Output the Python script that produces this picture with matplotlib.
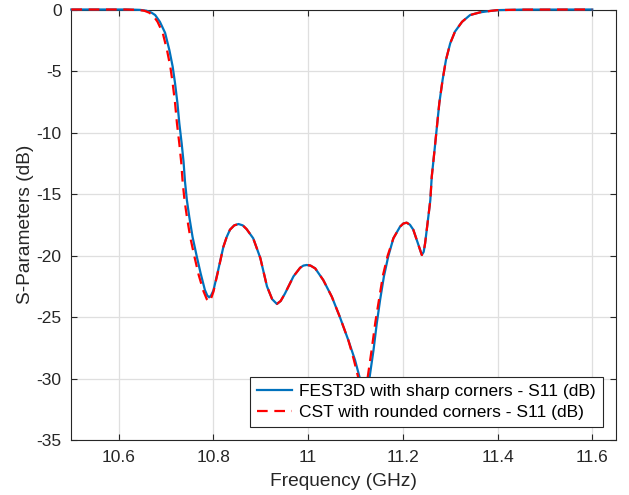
import matplotlib
matplotlib.use("Agg")
import matplotlib.pyplot as plt
from matplotlib.ticker import FixedLocator, FuncFormatter

plt.rcParams['font.family'] = ['Liberation Sans', 'DejaVu Sans']
plt.rcParams['axes.unicode_minus'] = False

# FEST3D, sharp corners
fest_f = [10.500, 10.620, 10.645, 10.659, 10.669, 10.677, 10.687, 10.698, 10.707, 10.714,
          10.719, 10.724, 10.728, 10.733, 10.737, 10.740, 10.744, 10.749, 10.756, 10.765,
          10.773, 10.782, 10.787, 10.791, 10.795, 10.800, 10.810, 10.821, 10.828, 10.835,
          10.844, 10.853, 10.862, 10.870, 10.884, 10.899, 10.913, 10.924, 10.934, 10.942,
          10.951, 10.969, 10.983, 10.990, 10.997, 11.005, 11.015, 11.032, 11.050, 11.067,
          11.085, 11.099, 11.110, 11.119, 11.129, 11.138, 11.145, 11.152, 11.160, 11.169,
          11.180, 11.194, 11.201, 11.208, 11.215, 11.222, 11.233, 11.240, 11.244, 11.247,
          11.253, 11.258, 11.261, 11.267, 11.272, 11.277, 11.284, 11.291, 11.300, 11.310,
          11.325, 11.342, 11.363, 11.384, 11.400, 11.450, 11.600]
fest_s11 = [0.00, 0.00, -0.03, -0.10, -0.25, -0.45, -1.00, -1.90, -3.30, -4.65,
            -6.00, -7.60, -9.25, -10.90, -12.40, -14.00, -15.50, -16.85, -18.50, -20.10,
            -21.45, -22.80, -23.25, -23.40, -23.25, -22.85, -21.20, -19.30, -18.50, -17.90,
            -17.55, -17.44, -17.55, -17.85, -18.60, -20.20, -22.50, -23.55, -23.94, -23.70,
            -23.10, -21.70, -21.00, -20.82, -20.77, -20.82, -21.05, -22.00, -23.35, -25.00,
            -26.90, -28.50, -30.10, -31.00, -30.10, -27.70, -25.50, -23.60, -21.70, -20.10,
            -18.60, -17.66, -17.40, -17.33, -17.50, -17.90, -19.15, -19.96, -19.70, -19.00,
            -17.10, -15.50, -13.60, -11.40, -9.50, -7.60, -5.70, -4.10, -2.75, -1.80,
            -1.00, -0.45, -0.23, -0.12, -0.05, -0.01, 0.00]

# CST, rounded corners
cst_f = [10.500, 10.615, 10.640, 10.654, 10.664, 10.672, 10.682, 10.693, 10.702, 10.709,
         10.714, 10.719, 10.723, 10.728, 10.732, 10.735, 10.739, 10.744, 10.751, 10.760,
         10.769, 10.779, 10.786, 10.791, 10.795, 10.800, 10.810, 10.821, 10.828, 10.835,
         10.844, 10.853, 10.862, 10.870, 10.884, 10.899, 10.913, 10.924, 10.934, 10.942,
         10.951, 10.969, 10.983, 10.990, 10.997, 11.005, 11.015, 11.032, 11.050, 11.067,
         11.085, 11.096, 11.107, 11.116, 11.125, 11.134, 11.142, 11.150, 11.158, 11.168,
         11.180, 11.194, 11.201, 11.208, 11.215, 11.222, 11.233, 11.240, 11.244, 11.247,
         11.253, 11.258, 11.261, 11.267, 11.272, 11.277, 11.284, 11.291, 11.300, 11.310,
         11.325, 11.342, 11.363, 11.384, 11.400, 11.450, 11.600]
cst_s11 = [0.00, 0.00, -0.03, -0.10, -0.25, -0.45, -1.00, -1.90, -3.30, -4.65,
           -6.00, -7.60, -9.25, -10.90, -12.40, -14.00, -15.50, -16.85, -18.50, -20.10,
           -21.60, -22.90, -23.55, -23.75, -23.50, -22.95, -21.25, -19.30, -18.50, -17.90,
           -17.55, -17.44, -17.55, -17.85, -18.60, -20.20, -22.50, -23.55, -23.94, -23.70,
           -23.10, -21.70, -21.00, -20.82, -20.77, -20.82, -21.05, -22.00, -23.35, -25.00,
           -26.90, -28.40, -30.10, -31.10, -30.10, -27.70, -25.40, -23.50, -21.60, -20.00,
           -18.60, -17.66, -17.40, -17.33, -17.50, -17.90, -19.15, -19.96, -19.70, -19.00,
           -17.10, -15.50, -13.60, -11.40, -9.50, -7.60, -5.70, -4.10, -2.75, -1.80,
           -1.00, -0.45, -0.23, -0.12, -0.05, -0.01, 0.00]

x_ticks = [10.6, 10.8, 11.0, 11.2, 11.4, 11.6]
y_ticks = [0, -5, -10, -15, -20, -25, -30, -35]

dark = '#262626'

fig = plt.figure(figsize=(6.29, 4.95), dpi=100)
ax = fig.add_axes([0.1134, 0.1111, 0.8659, 0.8697])

ax.plot(fest_f, fest_s11, color='#0072BD', lw=1.6, clip_on=False,
        label='FEST3D with sharp corners - S11 (dB)', zorder=3)
ax.plot(cst_f, cst_s11, color='#FF0000', lw=1.6, ls=(0, (4.8, 3)), clip_on=False,
        label='CST with rounded corners - S11 (dB)', zorder=4)

ax.set_xlim(10.5, 11.65)
ax.set_ylim(-35, 0)
ax.xaxis.set_major_locator(FixedLocator(x_ticks))
ax.yaxis.set_major_locator(FixedLocator(y_ticks))
ax.xaxis.set_major_formatter(FuncFormatter(lambda v, p: '%g' % v))
ax.yaxis.set_major_formatter(FuncFormatter(lambda v, p: '%g' % v))

ax.grid(True, color='#dfdfdf', lw=0.9)
ax.set_axisbelow(True)
ax.tick_params(direction='in', length=4.5, width=0.8, colors=dark, labelsize=12.5,
               top=True, right=True, pad=7)
for s in ax.spines.values():
    s.set_color(dark)
    s.set_linewidth(0.8)

ax.set_xlabel('Frequency (GHz)', fontsize=13.8, color=dark, labelpad=6)
ax.set_ylabel('S-Parameters (dB)', fontsize=13.8, color=dark, labelpad=2)

leg = ax.legend(loc='lower right', fontsize=12.5, fancybox=False, framealpha=1,
                edgecolor=dark, handlelength=2.0, borderpad=0.42, labelspacing=0.3,
                handletextpad=0.4, borderaxespad=0.75)
leg.get_frame().set_linewidth(0.8)
leg.set_zorder(10)

fig.savefig('out.png', dpi=100)
